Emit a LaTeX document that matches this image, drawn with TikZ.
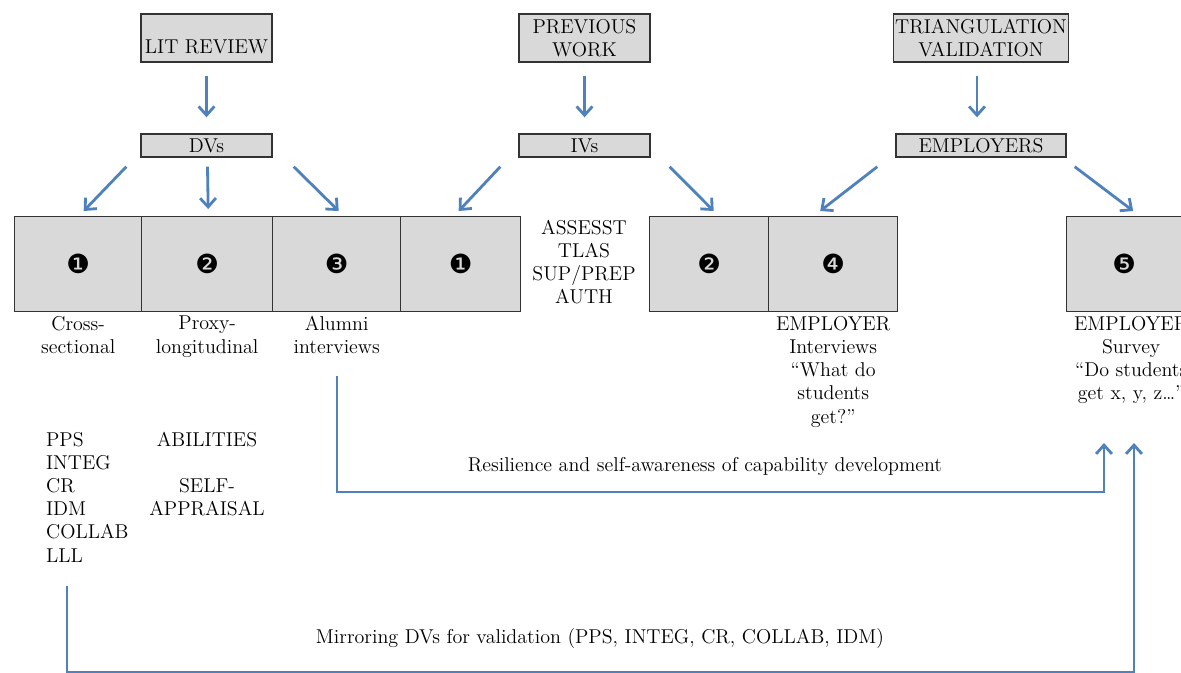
\documentclass[tikz,border=0pt]{standalone}
\usepackage{xcolor}
\usepackage{tikz}
\usepackage{fontspec}
\newfontfamily\dingfont{DejaVu Sans}
\usetikzlibrary{arrows.meta,positioning}
\definecolor{flow}{RGB}{79,129,189}
\definecolor{boxgray}{RGB}{217,217,217}

\begin{document}
\begin{tikzpicture}[
    x=0.02cm, y=-0.02cm,
    font=\fontsize{11.4}{13.2}\selectfont,
    head/.style={rectangle, draw=black!80, fill=boxgray, thick, minimum width=2.62cm, minimum height=0.96cm, align=center, inner sep=1pt},
    tag/.style={head, minimum height=0.46cm},
    cell/.style={rectangle, draw=black!80, fill=boxgray, thick, anchor=north west, minimum height=1.9cm, inner sep=0pt, font=\dingfont\fontsize{15}{15}\selectfont},
    caption/.style={align=center, inner sep=1pt},
    flowarrow/.style={draw=flow, line width=1.6pt, -{Straight Barb[length=5pt,width=9pt]}}
]
    \clip (0,0) rectangle (1181,673);
    \useasboundingbox (0,0) rectangle (1181,673);

    % sources
    \node[head, text height=18pt, text depth=0pt] (litreview) at (206.5,38) {LIT REVIEW};
    \node[head] (prevwork) at (584.5,38) {PREVIOUS\\WORK};
    \node[head, minimum width=3.4cm] (triang) at (981,38) {TRIANGULATION\\VALIDATION};

    \node[tag] (dvs) at (206.5,145.5) {DVs};
    \node[tag] (ivs) at (584.5,145.5) {IVs};
    \node[tag, minimum width=3.4cm] (employers) at (981,145.5) {EMPLOYERS};

    % studies
    \node[cell, minimum width=2.54cm] (cs) at (14,216) {❶};
    \node[cell, minimum width=2.62cm] (proxy) at (141,216) {❷};
    \node[cell, minimum width=2.56cm] (alumni) at (272,216) {❸};
    \node[cell, minimum width=2.40cm] (ivone) at (400,216) {❶};
    \node[cell, minimum width=2.38cm] (ivtwo) at (649,216) {❷};
    \node[cell, minimum width=2.58cm] (empint) at (768,216) {❹};
    \node[cell, minimum width=2.30cm] (empsurvey) at (1066,216) {❺};

    \node[caption] (ivlist) at (584,262) {ASSESST\\TLAS\\SUP/PREP\\AUTH};

    \node[caption, below=1pt of cs] (cslab) {Cross-\\sectional};
    \node[caption, below=1pt of proxy] (proxylab) {Proxy-\\longitudinal};
    \node[caption, below=1pt of alumni] (alumnilab) {Alumni\\interviews};
    \node[caption, below=1pt of empint] (empintlab) {EMPLOYER\\Interviews\\``What do\\students\\get?''};
    \node[caption, below=1pt of empsurvey, xshift=0.14cm] (empsurveylab) {EMPLOYER\\Survey\\``Do students\\get x, y, z\ldots''};

    \node[caption, align=left, anchor=north west] (dvlist) at (44,430) {PPS\\INTEG\\CR\\IDM\\COLLAB\\LLL};
    \node[caption, anchor=north] (abil) at (207,430) {ABILITIES\\[13pt]SELF-\\APPRAISAL};

    % arrows
    \draw[flowarrow] ([shift={(0,13)}]litreview.south) -- ([shift={(0,-16)}]dvs.north);
    \draw[flowarrow] ([shift={(0,13)}]prevwork.south) -- ([shift={(0,-16)}]ivs.north);
    \draw[flowarrow] ([shift={(-4,13)}]triang.south) -- ([shift={(-4,-16)}]employers.north);

    \draw[flowarrow] ([shift={(-14,9)}]dvs.south west) -- ([shift={(5.5,-5)}]cs.north);
    \draw[flowarrow] ([shift={(1,9)}]dvs.south) -- ([shift={(1,-7)}]proxy.north);
    \draw[flowarrow] ([shift={(21,9)}]dvs.south east) -- ([shift={(2,-5)}]alumni.north);
    \draw[flowarrow] ([shift={(-18,9)}]ivs.south west) -- ([shift={(-2,-5)}]ivone.north);
    \draw[flowarrow] ([shift={(19,9)}]ivs.south east) -- ([shift={(4.5,-5)}]ivtwo.north);
    \draw[flowarrow] ([shift={(-18,9)}]employers.south west) -- ([shift={(-13,-5)}]empint.north);
    \draw[flowarrow] ([shift={(8,9)}]employers.south east) -- ([shift={(9,-5)}]empsurvey.north);

    % links back to the survey
    \coordinate (resstart) at (337,376);
    \coordinate (resend) at (1104,443);
    \draw[flowarrow] (resstart) -- ++(0,116) -| (resend);
    \node[caption] (reslab) at (705,466) {Resilience and self-awareness of capability development};

    \coordinate (mirstart) at (67,586);
    \coordinate (mirend) at (1134,443);
    \draw[flowarrow] (mirstart) -- ++(0,86) -| (mirend);
    \node[caption] (mirlab) at (600,638) {Mirroring DVs for validation (PPS, INTEG, CR, COLLAB, IDM)};
\end{tikzpicture}
\end{document}
